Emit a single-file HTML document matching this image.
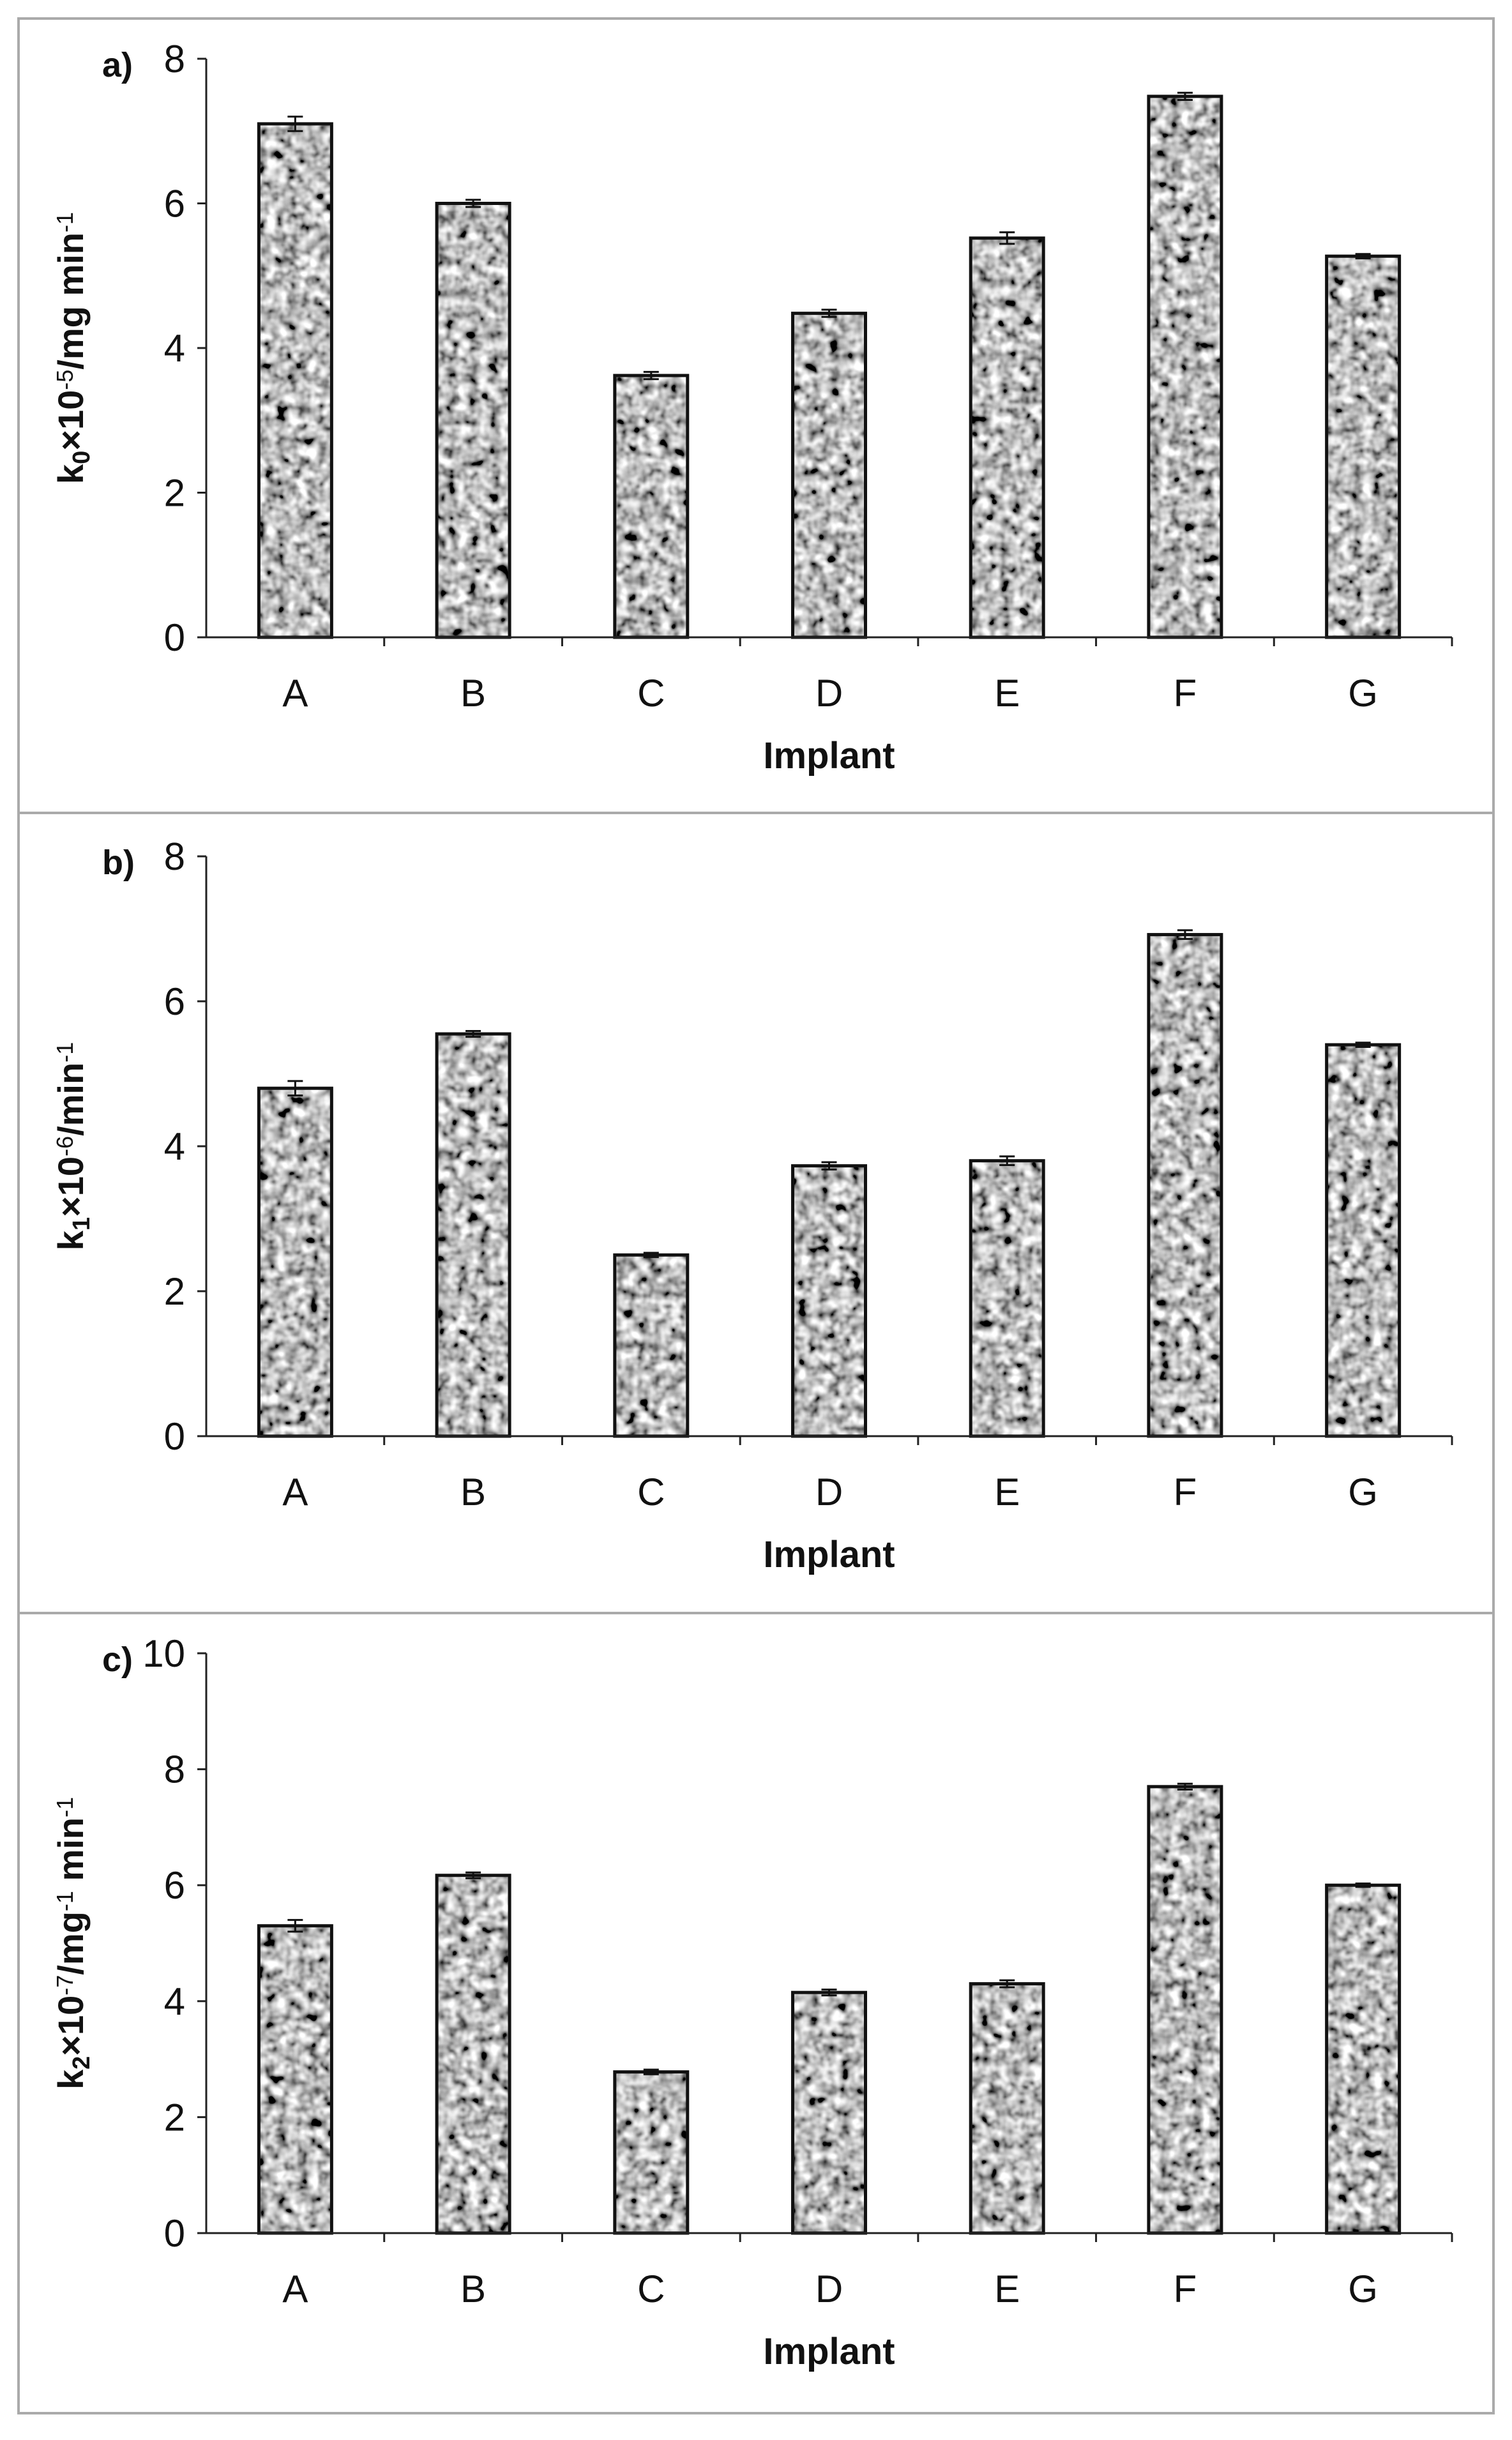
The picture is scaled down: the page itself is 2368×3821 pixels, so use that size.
<!DOCTYPE html>
<html><head><meta charset="utf-8"><style>
html,body{margin:0;padding:0;background:#fff;}
svg{display:block;font-family:"Liberation Sans",Arial,sans-serif;}
</style></head><body>
<svg id="fig" width="2368" height="3821" viewBox="0 0 2368 3821" xmlns="http://www.w3.org/2000/svg">
<defs>
<filter id="tex" x="0" y="0" width="100%" height="100%">
<feTurbulence type="fractalNoise" baseFrequency="0.06" numOctaves="2" seed="3" result="n"/>
<feColorMatrix in="n" type="matrix" values="1.1 1.1 1.1 0 -1.15  1.1 1.1 1.1 0 -1.15  1.1 1.1 1.1 0 -1.15  0 0 0 0 1"/>
</filter>
</defs>
<g id="root"></g>
</svg>
<script>
const categories = ["A","B","C","D","E","F","G"];
const valuesA = [7.1, 6.0, 3.62, 4.48, 5.52, 7.48, 5.27];
const errorsA = [0.1, 0.05, 0.05, 0.05, 0.08, 0.05, 0.03];
const valuesB = [4.8, 5.55, 2.5, 3.73, 3.8, 6.92, 5.4];
const errorsB = [0.1, 0.04, 0.03, 0.05, 0.06, 0.06, 0.03];
const valuesC = [5.3, 6.17, 2.78, 4.15, 4.3, 7.7, 6.0];
const errorsC = [0.1, 0.05, 0.04, 0.05, 0.06, 0.05, 0.03];
const ticksA = [0,2,4,6,8];
const ticksB = [0,2,4,6,8];
const ticksC = [0,2,4,6,8,10];

const NS = "http://www.w3.org/2000/svg";
const root = document.getElementById("root");
function mk(tag, attrs, parent, txt){
  const e = document.createElementNS(NS, tag);
  for (const k in attrs) e.setAttribute(k, attrs[k]);
  if (txt !== undefined) e.textContent = txt;
  (parent||root).appendChild(e);
  return e;
}
const panels = [
  {id:"a", top:29, bot:1273, y0:998, yTop:92, max:8, vals:valuesA, errs:errorsA, ticks:ticksA, title:["k","0","×10","-5","/mg min","-1"]},
  {id:"b", top:1273, bot:2526, y0:2249, yTop:1341, max:8, vals:valuesB, errs:errorsB, ticks:ticksB, title:["k","1","×10","-6","/min","-1"]},
  {id:"c", top:2526, bot:3779, y0:3497, yTop:2589, max:10, vals:valuesC, errs:errorsC, ticks:ticksC, title:["k","2","×10","-7","/mg","-1"," min","-1"]}
];
const xL = 323, xR = 2274, bw = 114;
const cw = (xR - xL) / categories.length;
panels.forEach(p => {
  const g = mk("g", {});
  
  
  const box = mk("rect", {x:29, y:p.top, width:2310, height:p.bot-p.top, fill:"none", stroke:"#aaa", "stroke-width":4}, g);
  
  
  const yS = v => p.y0 - (v / p.max) * (p.y0 - p.yTop);
  const xS = i => xL + cw * (i + 0.5);
  p.vals.forEach((v, i) => {
    const x = xS(i) - bw/2, y = yS(v);
    const t = mk("rect", {x:x, y:y, width:bw, height:p.y0-y, fill:"#999", filter:"url(#tex)"}, g);
    
    
    const o = mk("rect", {x:x, y:y, width:bw, height:p.y0-y, fill:"none", stroke:"#111", "stroke-width":5}, g);
    
    
    const e = p.errs[i], cx = xS(i);
    const eb = mk("path", {d:`M${cx},${yS(v+e)}V${yS(v-e)}M${cx-12},${yS(v+e)}H${cx+12}M${cx-12},${yS(v-e)}H${cx+12}`, stroke:"#111", "stroke-width":3, fill:"none"}, g);
    
    
  });
  const ax = mk("path", {d:`M${xL},${p.yTop}V${p.y0}M${xL-14},${p.y0}H${xR}`, stroke:"#222", "stroke-width":3, fill:"none"}, g);
  
  
  p.ticks.forEach(t => {
    const y = yS(t);
    const tk = mk("line", {x1:xL-14, x2:xL, y1:y, y2:y, stroke:"#222", "stroke-width":3}, g);
    
    
    const tl = mk("text", {x:290, y:y+21, "text-anchor":"end", "font-size":60, fill:"#111"}, g, String(t));
    
    
  });
  categories.forEach((c, i) => {
    const xt = xL + cw * (i + 1);
    const tk = mk("line", {x1:xt, x2:xt, y1:p.y0, y2:p.y0+14, stroke:"#222", "stroke-width":3}, g);
    
    
    const cl = mk("text", {x:xS(i), y:p.y0+108, "text-anchor":"middle", "font-size":60, fill:"#111"}, g, c);
    
    
  });
  const xt = mk("text", {x:(xL+xR)/2, y:p.y0+205, "text-anchor":"middle", "font-size":58, "font-weight":"bold", fill:"#111"}, g, "Implant");
  
  
  const pl = mk("text", {x:160, y:p.yTop+28, "font-size":54, "font-weight":"bold", fill:"#111"}, g, p.id + ")");
  
  
  const cy = (p.yTop + p.y0) / 2;
  const yt = mk("text", {x:0, y:0, transform:`translate(130,${cy}) rotate(-90)`, "text-anchor":"middle", "font-size":56, "font-weight":"bold", fill:"#111"}, g);
  
  
  const parts = p.title;
  for (let k = 0; k < parts.length; k++) {
    const s = parts[k];
    let attrs = {};
    if (s === "0" || s === "1" || s === "2") attrs = {"baseline-shift":"-25%", "font-size":38};
    else if (s.startsWith("-")) attrs = {"baseline-shift":"45%", "font-size":36, "font-weight":"normal"};
    mk("tspan", attrs, yt, s);
  }
});
</script>
</body></html>
